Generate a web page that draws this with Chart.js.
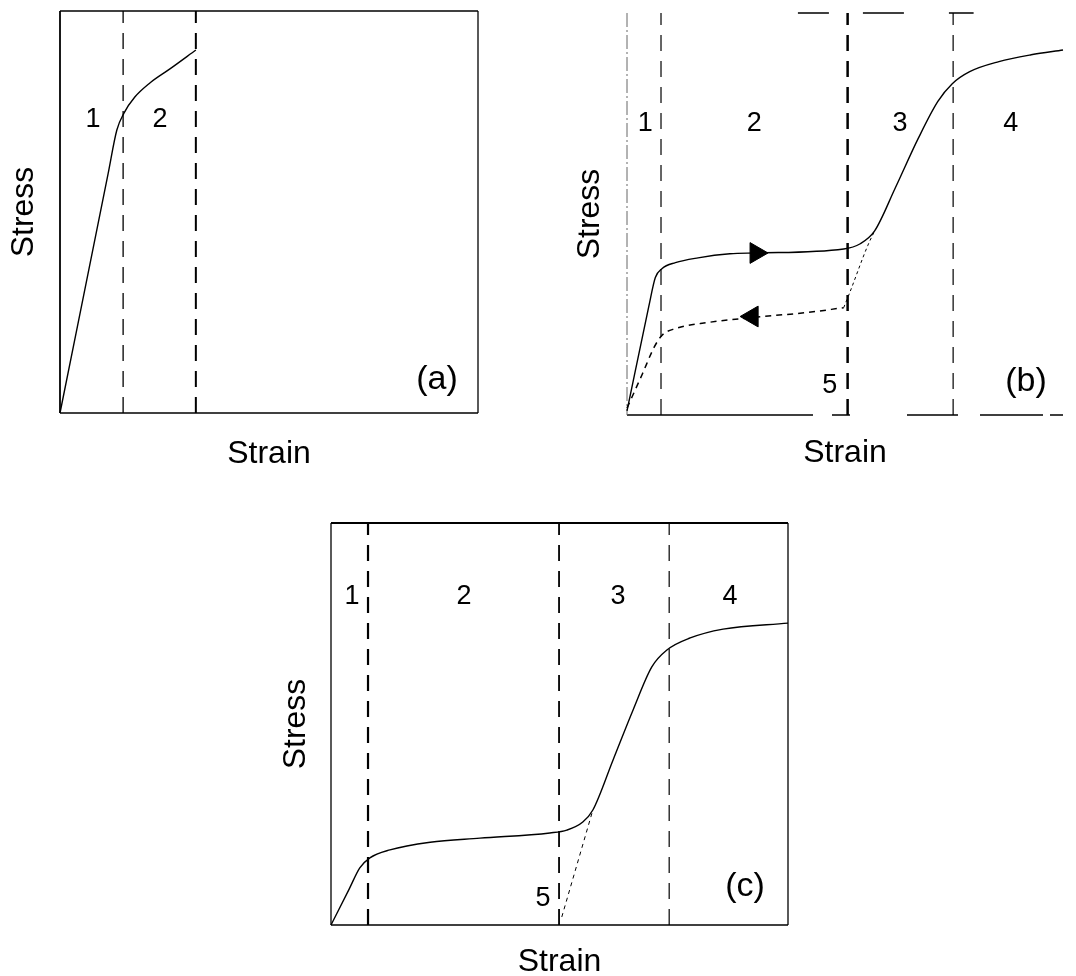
<!DOCTYPE html>
<html>
<head>
<meta charset="utf-8">
<script src="https://cdn.jsdelivr.net/npm/chart.js@4.4.1/dist/chart.umd.min.js"></script>
<style>
  body { margin: 0; background: #fff; width: 1076px; height: 976px; position: relative; overflow: hidden; }
  canvas { position: absolute; }
</style>
</head>
<body>
<canvas id="chartA" width="490" height="474" style="left:0px;top:0px"></canvas>
<canvas id="chartB" width="516" height="473" style="left:560px;top:0px"></canvas>
<canvas id="chartC" width="528" height="472" style="left:270px;top:510px"></canvas>
<script>
// panel (a) - loading curve
var strainA = [0, 11.5, 13.6, 15.3, 17.9, 21.5, 26.3, 32.5];
var stressA = [0, 59.5, 70.4, 74.6, 78.6, 82.1, 85.6, 90.3];
var boundsA = [15.1, 32.5];
var textA = ['1', '2', '(a)'];
var textXA = [7.9, 23.9, 90.2];
var textYA = [72.9, 72.9, 8.2];

// panel (b) - loading, unloading, reloading
var strainB = [0, 5.0, 6.5, 8.0, 11.1, 16.3, 23.6, 29.6, 49.7, 53.5, 56.8, 61.5, 66.8, 71.3, 74.6, 78.6, 85.3, 92.7, 100];
var stressB = [1, 27.0, 34.2, 36.4, 37.9, 39.1, 40.1, 40.3, 41.3, 42.6, 45.8, 56.4, 68.8, 78.0, 82.4, 85.4, 87.9, 89.6, 90.8];
var strainBunload = [0, 3.6, 6.2, 8.0, 11.1, 18.5, 31.2, 41.4, 49.7];
var stressBunload = [1.7, 10.4, 16.8, 19.8, 21.5, 23.0, 24.5, 25.5, 26.7];
var strainBreload = [49.7, 51.0, 55.2, 56.8];
var stressBreload = [26.7, 30.2, 42.1, 45.8];
var arrowXB = [29.6, 28.7];
var arrowYB = [40.3, 24.5];
var arrowDirB = [90, -90];
var boundsB = [7.8, 50.6, 74.8];
var textB = ['1', '2', '3', '4', '5', '(b)'];
var textXB = [4.2, 29.2, 62.6, 88.0, 46.5, 91.5];
var textYB = [72.5, 72.5, 72.5, 72.5, 7.4, 8.2];

// panel (c)
var strainC = [0, 4.0, 6.3, 8.5, 12.9, 21.7, 32.6, 47.9, 51.6, 55.1, 57.3, 61.7, 66.1, 70.2, 73.5, 78.6, 85.8, 100];
var stressC = [0, 9.0, 14.2, 16.7, 18.7, 20.6, 21.6, 22.9, 23.6, 25.6, 28.6, 41.0, 53.5, 64.2, 68.4, 71.4, 73.6, 75.1];
var strainCback = [50.5, 57.3];
var stressCback = [2, 28.6];
var boundsC = [8.1, 49.9, 74.0];
var textC = ['1', '2', '3', '4', '5', '(c)'];
var textXC = [4.6, 29.1, 62.8, 87.3, 46.4, 90.6];
var textYC = [81.6, 81.6, 81.6, 81.6, 6.7, 9.5];

var FONT = "'Liberation Sans', Arial, sans-serif";
Chart.defaults.font.family = FONT;
Chart.defaults.color = '#000';

function pts(xs, ys) {
  return xs.map(function (x, i) { return { x: x, y: ys[i] }; });
}

function curve(xs, ys, dash, width) {
  return {
    data: pts(xs, ys),
    showLine: true,
    borderColor: '#000',
    borderWidth: width,
    borderDash: dash,
    pointRadius: 0,
    cubicInterpolationMode: 'monotone',
    clip: false
  };
}

function boundLines(bounds, widths) {
  return bounds.map(function (b, i) {
    return {
      data: [{ x: b, y: 0 }, { x: b, y: 100 }],
      showLine: true,
      borderColor: '#000',
      borderWidth: widths[i],
      borderDash: [16, 10],
      pointRadius: 0,
      clip: false
    };
  });
}

// labels drawn in data coordinates
var textPlugin = {
  id: 'panelText',
  afterDatasetsDraw: function (chart, args, opts) {
    var ctx = chart.ctx, sx = chart.scales.x, sy = chart.scales.y;
    ctx.save();
    ctx.fillStyle = '#000';
    ctx.textAlign = 'center';
    ctx.textBaseline = 'middle';
    opts.texts.forEach(function (t, i) {
      ctx.font = (t.length > 1 ? 34 : 27) + 'px ' + FONT;
      ctx.fillText(t, sx.getPixelForValue(opts.x[i]), sy.getPixelForValue(opts.y[i]));
    });
    ctx.restore();
  }
};

// box around the plot area
var framePlugin = {
  id: 'frame',
  beforeDatasetsDraw: function (chart, args, opts) {
    var ctx = chart.ctx, a = chart.chartArea, sx = chart.scales.x;
    ctx.save();
    opts.sides.forEach(function (s) {
      ctx.beginPath();
      ctx.strokeStyle = s.color || '#000';
      ctx.lineWidth = s.width;
      ctx.setLineDash(s.dash || []);
      var x0 = s.from != null ? sx.getPixelForValue(s.from) : a.left;
      var x1 = s.to != null ? sx.getPixelForValue(s.to) : a.right;
      if (s.side === 'top') { ctx.moveTo(x0, a.top); ctx.lineTo(x1, a.top); }
      if (s.side === 'bottom') { ctx.moveTo(x0, a.bottom); ctx.lineTo(x1, a.bottom); }
      if (s.side === 'left') { ctx.moveTo(a.left, a.top); ctx.lineTo(a.left, a.bottom); }
      if (s.side === 'right') { ctx.moveTo(a.right, a.top); ctx.lineTo(a.right, a.bottom); }
      ctx.stroke();
    });
    ctx.restore();
  }
};

function scales(yPadTop, yPadBottom, xPadTop) {
  var common = {
    type: 'linear', min: 0, max: 100,
    grid: { display: false, drawTicks: false },
    border: { display: false },
    ticks: { display: false }
  };
  return {
    x: Object.assign({}, common, {
      title: { display: true, text: 'Strain', color: '#000', font: { size: 32, lineHeight: 1 }, padding: { top: xPadTop, bottom: 4 } }
    }),
    y: Object.assign({}, common, {
      title: { display: true, text: 'Stress', color: '#000', font: { size: 32, lineHeight: 1 }, padding: { top: yPadTop, bottom: yPadBottom } }
    })
  };
}

function makePanel(id, datasets, sc, pad, texts, sides) {
  return new Chart(document.getElementById(id), {
    type: 'scatter',
    data: { datasets: datasets },
    options: {
      responsive: false,
      animation: false,
      devicePixelRatio: 1,
      layout: { padding: pad },
      scales: sc,
      plugins: {
        legend: { display: false },
        tooltip: { enabled: false },
        panelText: texts,
        frame: { sides: sides }
      }
    },
    plugins: [framePlugin, textPlugin]
  });
}

// (a)
makePanel('chartA',
  [curve(strainA, stressA, [], 1.4)].concat(boundLines(boundsA, [1.3, 2])),
  scales(8, 20, 25),
  { top: 11, right: 12, bottom: 0, left: 0 },
  { texts: textA, x: textXA, y: textYA },
  [{ side: 'top', width: 1.5 }, { side: 'bottom', width: 1.6 }, { side: 'left', width: 1.8 }, { side: 'right', width: 1.3 }]
);

// (b)
var arrowSet = {
  data: pts(arrowXB, arrowYB),
  showLine: false,
  pointStyle: 'triangle',
  pointRotation: arrowDirB,
  pointRadius: 12,
  pointBackgroundColor: '#000',
  pointBorderColor: '#000',
  clip: false
};
makePanel('chartB',
  [curve(strainB, stressB, [], 1.4),
   curve(strainBunload, stressBunload, [6, 5], 1.5),
   curve(strainBreload, stressBreload, [3, 3], 1),
   arrowSet].concat(boundLines(boundsB, [1.2, 2.5, 1.2])),
  scales(14, 21, 22),
  { top: 11, right: 1, bottom: 0, left: 0 },
  { texts: textB, x: textXB, y: textYB },
  [{ side: 'top', width: 1.5, from: 39.2, to: 79.5, dash: [31, 34, 41, 45, 30, 200] },
   { side: 'bottom', width: 1.6, dash: [186, 19, 18, 57, 51, 22, 63, 7, 200] },
   { side: 'left', width: 1, color: '#666', dash: [14, 3, 2, 3] }]
);

// (c)
makePanel('chartC',
  [curve(strainC, stressC, [], 1.4),
   curve(strainCback, stressCback, [4, 4], 1)].concat(boundLines(boundsC, [2.2, 1.8, 1.2])),
  scales(10, 19, 21),
  { top: 13, right: 10, bottom: 0, left: 0 },
  { texts: textC, x: textXC, y: textYC },
  [{ side: 'top', width: 2 }, { side: 'bottom', width: 1.6 }, { side: 'left', width: 1.3 }, { side: 'right', width: 1.3 }]
);
</script>
</body>
</html>
